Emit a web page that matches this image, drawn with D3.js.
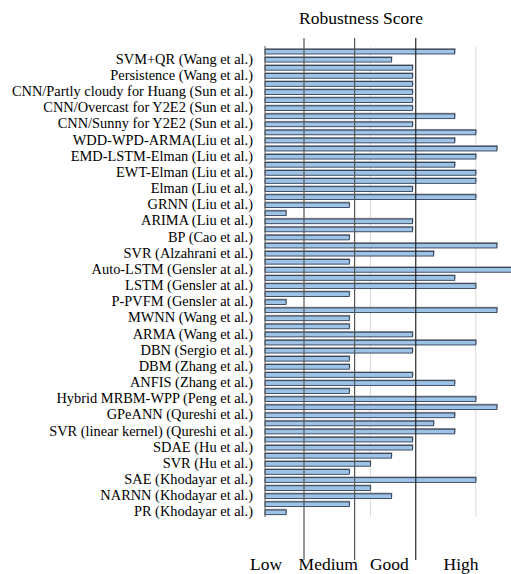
<!DOCTYPE html>
<html>
<head>
<meta charset="utf-8">
<script src="https://cdn.jsdelivr.net/npm/d3@7"></script>
<style>
  body { margin: 0; background: #fff; }
</style>
</head>
<body>
<svg width="511" height="574"></svg>
<script>
const methods = [
  "SVM+QR (Wang et al.)", "Persistence (Wang et al.)", "CNN/Partly cloudy for Huang (Sun et al.)",
  "CNN/Overcast for Y2E2 (Sun et al.)", "CNN/Sunny for Y2E2 (Sun et al.)", "WDD-WPD-ARMA(Liu et al.)",
  "EMD-LSTM-Elman (Liu et al.)", "EWT-Elman (Liu et al.)", "Elman (Liu et al.)", "GRNN (Liu et al.)",
  "ARIMA  (Liu et al.)", "BP (Cao et al.)", "SVR (Alzahrani et al.)", "Auto-LSTM (Gensler at al.)",
  "LSTM (Gensler at al.)", "P-PVFM (Gensler at al.)", "MWNN (Wang et al.)", "ARMA  (Wang et al.)",
  "DBN (Sergio et al.)", "DBM (Zhang et al.)", "ANFIS (Zhang et al.)", "Hybrid MRBM-WPP (Peng et al.)",
  "GPeANN (Qureshi et al.)", "SVR (linear kernel) (Qureshi et al.)", "SDAE (Hu et al.)", "SVR (Hu et al.)",
  "SAE (Khodayar et al.)", "NARNN (Khodayar et al.)", "PR (Khodayar et al.)"
];
// two bars per method, upper then lower
const upperScore = [9, 7, 7, 7, 9, 10, 11, 9, 10, 10, 1, 7, 11, 4, 9, 4, 11, 4, 10, 4, 7, 4, 11, 8, 7, 6, 4, 5, 4];
const lowerScore = [6, 7, 7, 7, 7, 9, 10, 10, 7, 4, 7, 4, 8, 12, 10, 1, 4, 7, 7, 4, 9, 10, 9, 9, 7, 5, 10, 6, 1];
const levels = ["Low", "Medium", "Good", "High"];
const levelCenters = [0.05, 3.0, 5.9, 9.3];
const levelBreaks = [1.85, 4.25, 7.15];
const gridValues = [5, 10];

const serif = "'Liberation Serif', 'Times New Roman', Times, 'DejaVu Serif', serif";
const svg = d3.select("svg").attr("font-family", serif);

const bars = [];
methods.forEach((m, i) => {
  bars.push({ method: m, pos: 0, value: upperScore[i], slot: i * 2 });
  bars.push({ method: m, pos: 1, value: lowerScore[i], slot: i * 2 + 1 });
});

const x = d3.scaleLinear().domain([0, 12]).range([265, 518]);
const y = d3.scaleBand()
  .domain(d3.range(bars.length))
  .range([47.6, 516.4])
  .paddingInner(0.42)
  .paddingOuter(0.21);

// title
svg.append("text")
  .attr("x", 361).attr("y", 24)
  .attr("text-anchor", "middle")
  .style("font-size", "17.5px")
  .text("Robustness Score");

// light gridlines
svg.selectAll(".grid")
  .data(gridValues)
  .enter().append("line")
  .attr("x1", d => x(d)).attr("x2", d => x(d))
  .attr("y1", 47).attr("y2", 517)
  .attr("stroke", "#d9d9d9").attr("stroke-width", 1);

// bar shadows
svg.selectAll(".shadow")
  .data(bars)
  .enter().append("rect")
  .attr("x", x(0))
  .attr("y", d => y(d.slot) - 1.2)
  .attr("width", d => x(d.value) - x(0) + 0.8)
  .attr("height", y.bandwidth())
  .attr("fill", "#9a9a9a");

// bars
svg.selectAll(".bar")
  .data(bars)
  .enter().append("rect")
  .attr("x", x(0))
  .attr("y", d => y(d.slot))
  .attr("width", d => x(d.value) - x(0))
  .attr("height", y.bandwidth())
  .attr("fill", "#9dc3e6")
  .attr("stroke", "#1f2b44")
  .attr("stroke-width", 0.8);

// category axis line
svg.append("line")
  .attr("x1", x(0)).attr("x2", x(0))
  .attr("y1", 46).attr("y2", 517)
  .attr("stroke", "#595959").attr("stroke-width", 1);

// method labels, aligned with the lower bar of each pair
svg.selectAll(".label")
  .data(methods)
  .enter().append("text")
  .attr("x", 253)
  .attr("y", (d, i) => y(i * 2 + 1) + y.bandwidth() / 2 - 1)
  .attr("dy", "0.35em")
  .attr("text-anchor", "end")
  .style("font-size", "14.4px")
  .text(d => d);

// level separators
svg.selectAll(".sep")
  .data(levelBreaks)
  .enter().append("line")
  .attr("x1", d => x(d)).attr("x2", d => x(d))
  .attr("y1", 38).attr("y2", 560)
  .attr("stroke", (d, i) => i === 2 ? "#262626" : "#555")
  .attr("stroke-width", 1.2);

svg.selectAll(".level")
  .data(levels)
  .enter().append("text")
  .attr("x", (d, i) => x(levelCenters[i]))
  .attr("y", 570)
  .attr("text-anchor", "middle")
  .style("font-size", "17.5px")
  .text(d => d);
</script>
</body>
</html>
